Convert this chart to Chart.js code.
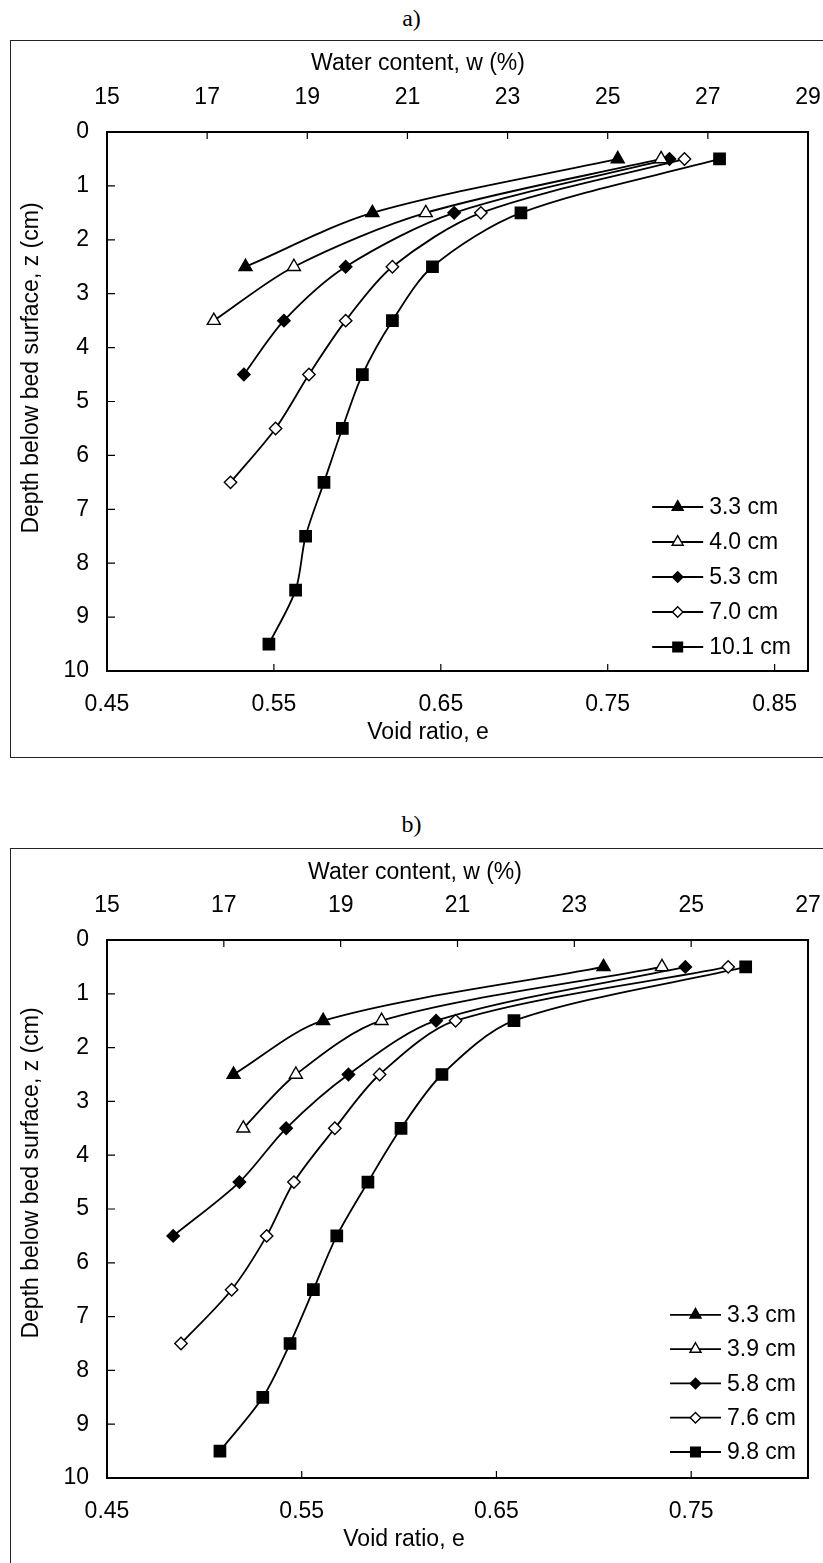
<!DOCTYPE html>
<html><head><meta charset="utf-8">
<script src="https://cdn.jsdelivr.net/npm/chart.js@4.4.1/dist/chart.umd.min.js"></script>
<style>
html,body{margin:0;padding:0;background:#fff;}
body{width:823px;height:1563px;position:relative;overflow:hidden;font-family:"Liberation Sans",Arial,sans-serif;}
.lbl{position:absolute;left:0;width:823px;text-align:center;font-family:"Liberation Serif","Times New Roman",serif;font-size:24px;line-height:26px;color:#000;}
.box{position:absolute;left:10px;width:830px;border:1.5px solid #222;}
canvas{position:absolute;left:0;}
</style></head><body>
<div class="lbl" style="top:5px">a)</div>
<div class="box" style="top:40px;height:716px"></div>
<canvas id="ca" width="823" height="760" style="top:0px"></canvas>
<div class="lbl" style="top:811px">b)</div>
<div class="box" style="top:848px;height:800px"></div>
<canvas id="cb" width="823" height="760" style="top:808px"></canvas>
<script>
// ---------- data ----------
const depths = [0.5, 1.5, 2.5, 3.5, 4.5, 5.5, 6.5, 7.5, 8.5, 9.5];
const depthTicks = [0, 1, 2, 3, 4, 5, 6, 7, 8, 9, 10];

// chart a)
const labelsA = ['3.3 cm', '4.0 cm', '5.3 cm', '7.0 cm', '10.1 cm'];
const eA_33 = [0.756, 0.609, 0.533];
const eA_40 = [0.782, 0.641, 0.562, 0.514];
const eA_53 = [0.787, 0.658, 0.593, 0.556, 0.532];
const eA_70 = [0.796, 0.674, 0.621, 0.593, 0.571, 0.551, 0.524];
const eA_101 = [0.817, 0.698, 0.645, 0.621, 0.603, 0.591, 0.580, 0.569, 0.563, 0.547];
const voidTicksA = [0.45, 0.55, 0.65, 0.75, 0.85];
const waterTicksA = [15, 17, 19, 21, 23, 25, 27, 29];

// chart b)
const labelsB = ['3.3 cm', '3.9 cm', '5.8 cm', '7.6 cm', '9.8 cm'];
const eB_33 = [0.705, 0.561, 0.515];
const eB_39 = [0.735, 0.591, 0.547, 0.520];
const eB_58 = [0.747, 0.619, 0.574, 0.542, 0.518, 0.484];
const eB_76 = [0.769, 0.629, 0.590, 0.567, 0.546, 0.532, 0.514, 0.488];
const eB_98 = [0.778, 0.659, 0.622, 0.601, 0.584, 0.568, 0.556, 0.544, 0.530, 0.508];
const voidTicksB = [0.45, 0.55, 0.65, 0.75];
const waterTicksB = [15, 17, 19, 21, 23, 25, 27];

const xTitle = 'Void ratio, e';
const x2Title = 'Water content, w (%)';
const yTitle = 'Depth below bed surface, z (cm)';

// ---------- styling ----------
const FONT = '"Liberation Sans", Arial, sans-serif';
const FS = 23;
Chart.defaults.font.family = FONT;
Chart.defaults.font.size = FS;
Chart.defaults.color = '#000';

const mStyle = ['triangle', 'triangle', 'rectRot', 'rectRot', 'rect'];
const mFill = ['#000', '#fff', '#000', '#fff', '#000'];
const mRad = [7.5, 7.5, 6.2, 6.2, 8];

function drawMarker(ctx, style, r, x, y) {
  if (Chart.helpers && Chart.helpers.drawPoint) {
    Chart.helpers.drawPoint(ctx, {pointStyle: style, radius: r, borderWidth: ctx.lineWidth, rotation: 0}, x, y);
    return;
  }
  ctx.beginPath();
  if (style === 'triangle') {
    ctx.moveTo(x, y - r); ctx.lineTo(x + r * 0.866, y + r / 2); ctx.lineTo(x - r * 0.866, y + r / 2);
  } else if (style === 'rectRot') {
    ctx.moveTo(x - r, y); ctx.lineTo(x, y - r); ctx.lineTo(x + r, y); ctx.lineTo(x, y + r);
  } else {
    const s = r * Math.SQRT1_2; ctx.rect(x - s, y - s, 2 * s, 2 * s);
  }
  ctx.closePath(); ctx.fill(); ctx.stroke();
}

const framePlugin = {
  id: 'frameTicks',
  beforeDatasetsDraw(chart) {
    const {ctx, chartArea: ca, scales} = chart;
    ctx.save();
    ctx.strokeStyle = '#000';
    ctx.lineWidth = 2;
    ctx.strokeRect(ca.left, ca.top, ca.right - ca.left, ca.bottom - ca.top);
    ctx.lineWidth = 1.2;
    const L = 7;
    ctx.beginPath();
    scales.x.ticks.forEach(t => {
      const p = scales.x.getPixelForValue(t.value);
      if (p > ca.left + 2 && p < ca.right - 2) { ctx.moveTo(p, ca.bottom); ctx.lineTo(p, ca.bottom - L); }
    });
    scales.x2.ticks.forEach(t => {
      const p = scales.x2.getPixelForValue(t.value);
      if (p > ca.left + 2 && p < ca.right - 2) { ctx.moveTo(p, ca.top); ctx.lineTo(p, ca.top + L); }
    });
    scales.y.ticks.forEach(t => {
      const p = scales.y.getPixelForValue(t.value);
      if (p > ca.top + 2 && p < ca.bottom - 2) { ctx.moveTo(ca.left, p); ctx.lineTo(ca.left + L + 1, p); }
    });
    ctx.stroke();
    ctx.restore();
  }
};

const legendPlugin = {
  id: 'cornerLegend',
  afterDraw(chart, args, o) {
    const {ctx, chartArea: ca} = chart;
    const ds = chart.data.datasets;
    ctx.save();
    ctx.font = FS + 'px ' + FONT;
    const maxW = Math.max(...ds.map(d => ctx.measureText(d.label).width));
    const textX = ca.right - o.rightGap - maxW;
    const lineEnd = textX - 6;
    const lineStart = lineEnd - 51;
    ds.forEach((d, i) => {
      const y = ca.bottom - o.bottomGap - o.rowH * (ds.length - 1 - i);
      ctx.strokeStyle = '#000';
      ctx.lineWidth = d.borderWidth;
      ctx.beginPath(); ctx.moveTo(lineStart, y); ctx.lineTo(lineEnd, y); ctx.stroke();
      ctx.fillStyle = d.pointBackgroundColor;
      ctx.lineWidth = d.pointBorderWidth;
      drawMarker(ctx, d.pointStyle, d.pointRadius * 0.85, (lineStart + lineEnd) / 2, y);
      ctx.fillStyle = '#000';
      ctx.textAlign = 'left';
      ctx.textBaseline = 'middle';
      ctx.fillText(d.label, textX, y + 1);
    });
    ctx.restore();
  }
};

const titlePlugin = {
  id: 'axisTitles',
  afterDraw(chart, args, o) {
    const {ctx} = chart;
    ctx.save();
    ctx.font = FS + 'px ' + FONT;
    ctx.fillStyle = '#000';
    ctx.textAlign = 'center';
    ctx.textBaseline = 'middle';
    o.items.forEach(t => {
      ctx.save();
      ctx.translate(t.x, t.y);
      if (t.rot) ctx.rotate(-Math.PI / 2);
      ctx.fillText(t.text, 0, 0);
      ctx.restore();
    });
    ctx.restore();
  }
};

function makeChart(id, c) {
  const datasets = c.series.map((vals, i) => ({
    label: c.labels[i],
    data: vals.map((e, k) => ({x: e, y: depths[k]})),
    xAxisID: 'x', yAxisID: 'y',
    showLine: true,
    borderColor: '#000', borderWidth: 1.8,
    pointStyle: mStyle[i], pointRadius: mRad[i], pointHoverRadius: mRad[i],
    pointBackgroundColor: mFill[i], pointBorderColor: '#000', pointBorderWidth: 1.4,
    tension: 0.3, fill: false
  }));
  const noGrid = {display: false, drawTicks: false};
  const fitH = h => s => { s.height = h; s.paddingLeft = 0; s.paddingRight = 0; };
  return new Chart(document.getElementById(id), {
    type: 'scatter',
    data: {datasets},
    options: {
      responsive: false, animation: false, events: [],
      layout: {padding: {left: 0, right: 15, top: 0, bottom: 0}},
      plugins: {
        legend: {display: false}, tooltip: {enabled: false},
        cornerLegend: c.legend,
        axisTitles: {items: c.titles}
      },
      scales: {
        x: {
          type: 'linear', position: 'bottom', min: c.voidTicks[0], max: c.eMax,
          grid: noGrid, border: {display: false},
          afterBuildTicks: s => { s.ticks = c.voidTicks.map(v => ({value: v})); },
          afterFit: fitH(c.bottomH),
          ticks: {padding: 20, maxRotation: 0, autoSkip: false, callback: v => Number(v).toFixed(2)}
        },
        x2: {
          type: 'linear', position: 'top', min: c.waterTicks[0], max: c.waterTicks[c.waterTicks.length - 1],
          grid: noGrid, border: {display: false},
          afterBuildTicks: s => { s.ticks = c.waterTicks.map(v => ({value: v})); },
          afterFit: fitH(132),
          ticks: {padding: 21, maxRotation: 0, autoSkip: false, callback: v => String(v)}
        },
        y: {
          type: 'linear', position: 'left', reverse: true, min: 0, max: 10,
          grid: noGrid, border: {display: false},
          afterBuildTicks: s => { s.ticks = depthTicks.map(v => ({value: v})); },
          afterFit: s => { s.width = 107; s.paddingTop = 0; s.paddingBottom = 0; },
          ticks: {padding: 18, autoSkip: false, callback: v => String(v)}
        }
      }
    },
    plugins: [framePlugin, legendPlugin, titlePlugin]
  });
}

makeChart('ca', {
  series: [eA_33, eA_40, eA_53, eA_70, eA_101], labels: labelsA,
  voidTicks: voidTicksA, eMax: 0.87, waterTicks: waterTicksA, bottomH: 89,
  legend: {rightGap: 17, bottomGap: 24, rowH: 35},
  titles: [
    {text: x2Title, x: 418, y: 64},
    {text: xTitle, x: 428, y: 733},
    {text: yTitle, x: 32, y: 368, rot: true}
  ]
});
makeChart('cb', {
  series: [eB_33, eB_39, eB_58, eB_76, eB_98], labels: labelsB,
  voidTicks: voidTicksB, eMax: 0.81, waterTicks: waterTicksB, bottomH: 90,
  legend: {rightGap: 12, bottomGap: 26, rowH: 34.3},
  titles: [
    {text: x2Title, x: 415, y: 65},
    {text: xTitle, x: 404, y: 732},
    {text: yTitle, x: 32, y: 365, rot: true}
  ]
});
</script>
</body></html>
